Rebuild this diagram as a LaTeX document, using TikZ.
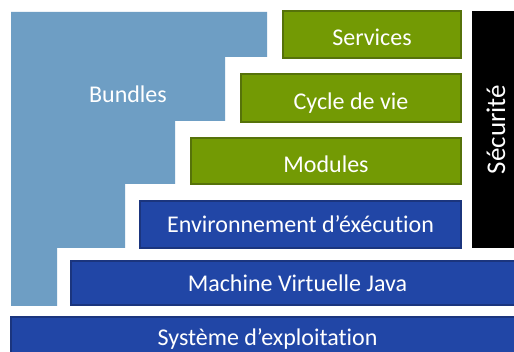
\documentclass[tikz,border=0pt]{standalone}
\usepackage{fontspec}
\setmainfont{Carlito}[Ligatures=NoCommon]
\usepackage{tikz}
\usetikzlibrary{positioning}
\definecolor{bundleblue}{HTML}{6E9EC4}
\definecolor{layergreen}{HTML}{739A04}
\definecolor{greenedge}{HTML}{56720A}
\definecolor{layerblue}{HTML}{2146A6}
\definecolor{blueedge}{HTML}{1B357E}
\tikzstyle{layer} = [rectangle, text=white, inner sep=0pt, text depth=0pt, font=\fontsize{24}{28}\selectfont]
\tikzstyle{greenlayer} = [layer, fill=layergreen, draw=greenedge, line width=1.3pt, text height=23pt]
\tikzstyle{bluelayer} = [layer, fill=layerblue, draw=blueedge, line width=1.3pt, text height=17pt]

\begin{document}
\begin{tikzpicture}[x=1pt, y=-1pt]
    \clip (0,0) rectangle (514,352);
    \fill[white] (0,0) rectangle (514,352);
    % bundles staircase
    \fill[bundleblue] (11,12) -- (267,12) -- (267,57) -- (225,57) -- (225,121) -- (175,121) -- (175,184)
        -- (125,184) -- (125,248) -- (57,248) -- (57,306) -- (11,306) -- cycle;
    \node (bundles) [layer, anchor=base] at (128,103) {Bundles};
    % framework layers
    \node (services) [greenlayer, minimum width=178pt, minimum height=47pt] at (372,34.5) {Services};
    \node (cycle) [greenlayer, minimum width=220pt, minimum height=48pt] at (351,98) {Cycle de vie};
    \node (modules) [greenlayer, minimum width=270pt, minimum height=46pt] at (326,161) {Modules};
    \node (env) [bluelayer, minimum width=321pt, minimum height=47pt] at (300.5,224.5) {Environnement d’éxécution};
    \node (jvm) [bluelayer, minimum width=453pt, minimum height=44pt] at (297.5,283) {Machine Virtuelle Java};
    \node (os) [bluelayer, text height=13pt, minimum width=513pt, minimum height=45pt] at (267.5,339.5) {Système d’exploitation};
    \node (secu) [layer, fill=black, text height=12pt, minimum width=237pt, minimum height=54pt, rotate=90,
        font=\fontsize{27}{31}\selectfont] at (499,129.5) {Sécurité};
\end{tikzpicture}
\end{document}
